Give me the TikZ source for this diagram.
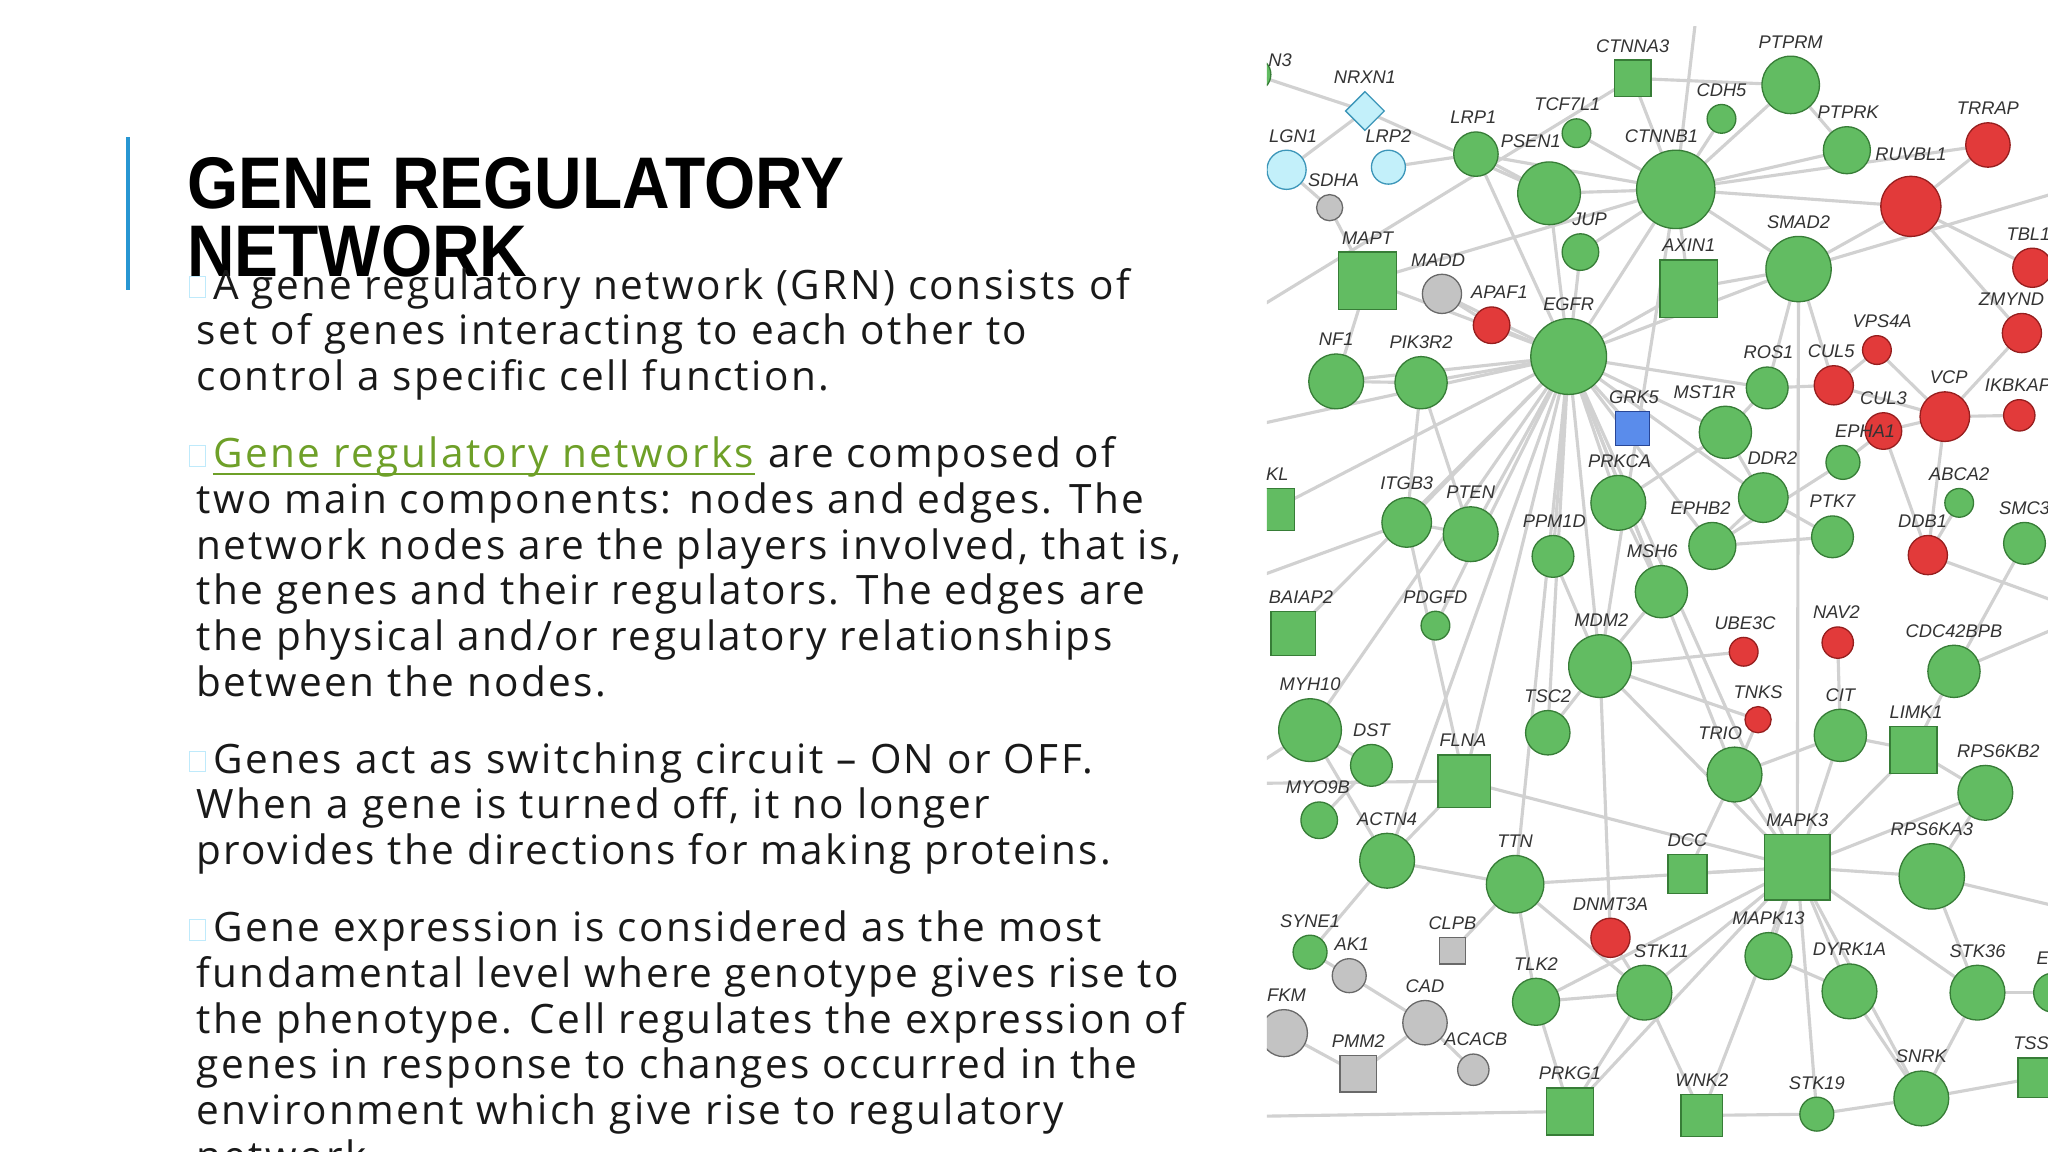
\documentclass[tikz,border=0pt]{standalone}
\usepackage{fontspec}
\setmainfont{Open Sans}[LetterSpace=6]
\newfontfamily\titlefont[FakeStretch=0.9]{Liberation Sans}
\newfontfamily\labfont{Liberation Sans}
\usetikzlibrary{shapes.geometric}
\definecolor{gfill}{RGB}{98,188,98}\definecolor{gdraw}{RGB}{55,125,55}
\definecolor{rfill}{RGB}{226,58,58}\definecolor{rdraw}{RGB}{150,30,30}
\definecolor{yfill}{RGB}{195,195,195}\definecolor{ydraw}{RGB}{105,105,105}
\definecolor{cfill}{RGB}{195,240,250}\definecolor{cdraw}{RGB}{60,150,185}
\definecolor{bfill}{RGB}{90,140,235}\definecolor{bdraw}{RGB}{40,70,150}
\definecolor{linkgreen}{RGB}{110,160,40}
\definecolor{accent}{RGB}{40,150,210}
\tikzset{
 gc/.style={circle,inner sep=0pt,line width=0.5pt},
 gs/.style={rectangle,inner sep=0pt,line width=0.5pt},
 gd/.style={diamond,inner sep=0pt,line width=0.5pt},
 G/.style={fill=gfill,draw=gdraw}, R/.style={fill=rfill,draw=rdraw},
 Y/.style={fill=yfill,draw=ydraw}, C/.style={fill=cfill,draw=cdraw},
 B/.style={fill=bfill,draw=bdraw},
 lab/.style={font=\labfont\itshape\fontsize{7}{8}\selectfont,text=black!80,inner sep=0pt},
 edge/.style={draw=black!18,line width=1.2pt},
 body/.style={anchor=base west,inner sep=0pt,font=\fontsize{15.5}{17}\selectfont,text=black!90},
 bul/.style={draw=cyan!25,line width=0.4pt,minimum width=6pt,minimum height=8pt,inner sep=0pt}
}
\def\nodelist{CTNNA3/1250/60/28/G/gs, PTPRM/1371/65/44/G/gc, CDH5/1318/91/22/G/gc, NRXN1/1045/85/30/C/gd,
TCF7L1/1207/102/22/G/gc, LRP1/1130/118/34/G/gc, LRP2/1063/128/26/C/gc, LGN1/985/130/30/C/gc,
PSEN1/1186/148/48/G/gc, CTNNB1/1283/145/60/G/gc, PTPRK/1414/115/36/G/gc, TRRAP/1522/111/34/R/gc,
RUVBL1/1463/158/46/R/gc, SDHA/1018/159/20/Y/gc, JUP/1210/193/28/G/gc, AXIN1/1293/221/44/G/gs,
SMAD2/1377/206/50/G/gc, TBL1/1556/205/30/R/gc, MAPT/1047/215/44/G/gs, MADD/1104/225/30/Y/gc,
APAF1/1142/249/28/R/gc, EGFR/1201/273/58/G/gc, ZMYND/1548/255/30/R/gc, VPS4A/1437/268/22/R/gc,
NF1/1023/292/42/G/gc, PIK3R2/1088/293/40/G/gc, ROS1/1353/297/32/G/gc, CUL5/1404/295/30/R/gc,
CUL3/1442/330/28/R/gc, VCP/1489/319/38/R/gc, IKBKAP/1546/318/24/R/gc, GRK5/1250/328/26/B/gs,
MST1R/1321/331/40/G/gc, EPHA1/1411/354/26/G/gc, KL/975/390/32/G/gs, PRKCA/1239/385/42/G/gc,
DDR2/1350/381/38/G/gc, ABCA2/1500/385/22/G/gc, ITGB3/1077/400/38/G/gc, PTEN/1126/409/42/G/gc,
PPM1D/1189/426/32/G/gc, EPHB2/1311/418/36/G/gc, PTK7/1403/411/32/G/gc, DDB1/1476/425/30/R/gc,
SMC3/1550/416/32/G/gc, MSH6/1272/453/40/G/gc, BAIAP2/990/485/34/G/gs, PDGFD/1099/479/22/G/gc,
MDM2/1225/510/48/G/gc, UBE3C/1335/499/22/R/gc, NAV2/1407/492/24/R/gc, CDC42BPB/1496/514/40/G/gc,
MYH10/1003/559/48/G/gc, TSC2/1185/561/34/G/gc, TNKS/1346/551/20/R/gc, CIT/1409/563/40/G/gc,
LIMK1/1465/574/36/G/gs, DST/1050/586/32/G/gc, FLNA/1121/598/40/G/gs, TRIO/1328/593/42/G/gc,
RPS6KB2/1520/607/42/G/gc, MYO9B/1010/628/28/G/gc, ACTN4/1062/659/42/G/gc, TTN/1160/677/44/G/gc,
DCC/1292/669/30/G/gs, MAPK3/1376/664/50/G/gs, RPS6KA3/1479/671/50/G/gc, SYNE1/1003/729/26/G/gc,
AK1/1033/747/26/Y/gc, CLPB/1112/728/20/Y/gs, DNMT3A/1233/718/30/R/gc, MAPK13/1354/732/36/G/gc,
DYRK1A/1416/759/42/G/gc, STK36/1514/760/42/G/gc, TLK2/1176/767/36/G/gc, STK11/1259/760/42/G/gc,
FKM/983/791/36/Y/gc, CAD/1091/783/34/Y/gc, PMM2/1040/822/28/Y/gs, ACACB/1128/819/24/Y/gc,
PRKG1/1202/851/36/G/gs, WNK2/1303/854/32/G/gs, STK19/1391/853/26/G/gc, SNRK/1471/841/42/G/gc,
TSS/1560/825/30/G/gs, NZ/960/57/26/G/gc, EZ/1572/760/30/G/gc}
\begin{document}
\begin{tikzpicture}[x=0.5pt,y=-0.5pt]
\useasboundingbox (0,0) rectangle (1568,882);
\fill[white] (0,0) rectangle (1568,882);
% title
\draw[accent,line width=1.2pt] (98,105) -- (98,222);
\node[anchor=base west,inner sep=0pt,font=\titlefont\bfseries\fontsize{28}{26}\selectfont] (t1) at (143,160) {GENE REGULATORY};
\node[anchor=base west,inner sep=0pt,font=\titlefont\bfseries\fontsize{28}{26}\selectfont] (t2) at (143,212) {NETWORK};
% body
\foreach \yy in {220,349,583,712}{\node[bul] at (151,\yy) {};}
\node[body] (b1) at (163,229) {A gene regulatory network (GRN) consists of};
\node[body] (b2) at (150,264) {set of genes interacting to each other to};
\node[body] (b3) at (150,299) {control a specific cell function.};
\node[body,text=linkgreen] (lk) at (163,358) {Gene regulatory networks};
\node[body] (lk2) at (lk.base east) {\ are composed of};
\draw[linkgreen,line width=0.6pt] ([yshift=-2.5pt]lk.base west) -- ([yshift=-2.5pt]lk.base east);
\node[body] (b5) at (150,393) {two main components: nodes and edges. The};
\node[body] (b6) at (150,428) {network nodes are the players involved, that is,};
\node[body] (b7) at (150,463) {the genes and their regulators. The edges are};
\node[body] (b8) at (150,498) {the physical and/or regulatory relationships};
\node[body] (b9) at (150,533) {between the nodes.};
\node[body] (c1) at (163,592) {Genes act as switching circuit – ON or OFF.};
\node[body] (c2) at (150,627) {When a gene is turned off, it no longer};
\node[body] (c3) at (150,662) {provides the directions for making proteins.};
\node[body] (d1) at (163,721) {Gene expression is considered as the most};
\node[body] (d2) at (150,756) {fundamental level where genotype gives rise to};
\node[body] (d3) at (150,791) {the phenotype. Cell regulates the expression of};
\node[body] (d4) at (150,826) {genes in response to changes occurred in the};
\node[body] (d5) at (150,861) {environment which give rise to regulatory};
\node[body] (d6) at (150,896) {network};
% network
\begin{scope}
\clip (970,20) rectangle (1568,882);
\foreach \n/\x/\y/\d/\c/\s in \nodelist {\coordinate (\n) at (\x,\y);}
\coordinate (L1) at (940,330); \coordinate (L2) at (940,600); \coordinate (L3) at (940,855);
\coordinate (L4) at (940,250); \coordinate (R1) at (1600,140); \coordinate (R2) at (1600,470);
\coordinate (R3) at (1600,700); \coordinate (T1) at (1300,0); \coordinate (L5) at (940,450);
\foreach \a/\b in {EGFR/PSEN1,EGFR/CTNNB1,EGFR/JUP,EGFR/APAF1,EGFR/MADD,EGFR/NF1,EGFR/PIK3R2,EGFR/ITGB3,
EGFR/PTEN,EGFR/PPM1D,EGFR/PRKCA,EGFR/GRK5,EGFR/MST1R,EGFR/MSH6,EGFR/MDM2,EGFR/TSC2,EGFR/FLNA,EGFR/MAPT,
EGFR/LRP1,EGFR/AXIN1,EGFR/SMAD2,EGFR/DDR2,EGFR/EPHB2,EGFR/ACTN4,EGFR/TTN,EGFR/BAIAP2,EGFR/MYH10,EGFR/ROS1,
EGFR/L1,EGFR/KL,EGFR/PDGFD,EGFR/TRIO,EGFR/MAPK3,
CTNNB1/CTNNA3,CTNNB1/CDH5,CTNNB1/PTPRM,CTNNB1/PSEN1,CTNNB1/TCF7L1,CTNNB1/AXIN1,CTNNB1/JUP,CTNNB1/SMAD2,
CTNNB1/PTPRK,CTNNB1/LRP1,CTNNB1/RUVBL1,CTNNB1/TRRAP,CTNNB1/MAPT,CTNNB1/MDM2,CTNNB1/T1,CTNNA3/PTPRM,CTNNA3/L4,
SMAD2/RUVBL1,SMAD2/ROS1,SMAD2/CUL5,SMAD2/MAPK3,SMAD2/AXIN1,SMAD2/R1,PTPRM/PTPRK,PSEN1/LRP1,PSEN1/NRXN1,
VCP/CUL3,VCP/CUL5,VCP/VPS4A,VCP/DDB1,VCP/IKBKAP,VCP/ZMYND,RUVBL1/TRRAP,RUVBL1/TBL1,RUVBL1/ZMYND,CUL5/VPS4A,
CUL3/DDB1,CUL3/EPHA1,CUL5/ROS1,DDB1/ABCA2,DDB1/R2,
MAPK3/TRIO,MAPK3/DCC,MAPK3/RPS6KA3,MAPK3/MAPK13,MAPK3/DYRK1A,MAPK3/STK11,MAPK3/CIT,MAPK3/LIMK1,MAPK3/RPS6KB2,
MAPK3/STK36,MAPK3/SNRK,MAPK3/WNK2,MAPK3/MDM2,MAPK3/TTN,MAPK3/FLNA,MAPK3/PRKG1,MAPK3/TLK2,MAPK3/STK19,
MDM2/TSC2,MDM2/MSH6,MDM2/UBE3C,MDM2/DNMT3A,MDM2/PPM1D,MDM2/TNKS,TRIO/TNKS,TRIO/CIT,CIT/LIMK1,CIT/NAV2,
LIMK1/CDC42BPB,LIMK1/RPS6KB2,CDC42BPB/SMC3,CDC42BPB/R2,RPS6KA3/RPS6KB2,RPS6KA3/R3,RPS6KA3/STK36,
EPHA1/EPHB2,DDR2/EPHB2,DDR2/MST1R,ROS1/MST1R,PTK7/EPHB2,PTK7/DDR2,PRKCA/MST1R,PRKCA/MSH6,
ITGB3/PTEN,PTEN/PIK3R2,ITGB3/FLNA,FLNA/ACTN4,ACTN4/MYH10,MYH10/DST,DST/MYO9B,ACTN4/TTN,ACTN4/SYNE1,
SYNE1/AK1,TTN/TLK2,CAD/ACACB,PMM2/CAD,AK1/CAD,STK11/TLK2,STK11/DNMT3A,STK11/WNK2,STK11/PRKG1,STK19/WNK2,
SNRK/STK19,DYRK1A/SNRK,STK36/SNRK,LRP2/LRP1,NRXN1/LGN1,LGN1/SDHA,SDHA/MAPT,MAPT/NF1,NF1/PIK3R2,
MYH10/L2,PRKG1/L3,FKM/PMM2,FLNA/L2,TTN/STK11,DCC/TRIO,MAPK13/DYRK1A,SNRK/TSS,STK36/EZ,ITGB3/L5,
PIK3R2/ITGB3,NZ/NRXN1,MADD/APAF1,TLK2/PRKG1,CLPB/TTN}
 {\draw[edge] (\a) -- (\b);}
\foreach \n/\x/\y/\d/\c/\s in \nodelist {
 \node[\s,\c,minimum size={\d*0.5pt}] at (\x,\y) {};
}
\foreach \n/\x/\y/\d in {CTNNA3/1250/60/28, PTPRM/1371/65/44, CDH5/1318/91/22, NRXN1/1045/85/30,
TCF7L1/1200/102/22, LRP1/1128/118/34, LRP2/1063/128/26, LGN1/990/130/30,
PSEN1/1172/143/48, CTNNB1/1272/145/60, PTPRK/1415/115/36, TRRAP/1522/111/34,
RUVBL1/1463/152/46, SDHA/1021/159/20, JUP/1217/193/28, AXIN1/1293/221/44,
SMAD2/1377/206/50, TBL1/1553/205/30, MAPT/1047/215/44, MADD/1101/225/30,
APAF1/1148/249/28, EGFR/1201/273/58, ZMYND/1540/255/30, VPS4A/1441/268/22,
NF1/1023/292/42, PIK3R2/1088/293/40, ROS1/1354/297/32, CUL5/1402/295/30,
CUL3/1442/330/28, VCP/1492/319/38, IKBKAP/1545/318/24, GRK5/1251/328/26,
MST1R/1305/331/40, EPHA1/1428/354/26, KL/978/390/32, PRKCA/1240/385/42,
DDR2/1357/381/38, ABCA2/1500/385/22, ITGB3/1077/400/38, PTEN/1126/409/42,
PPM1D/1190/426/32, EPHB2/1302/418/36, PTK7/1403/411/32, DDB1/1472/425/30,
SMC3/1550/416/32, MSH6/1265/453/40, BAIAP2/996/485/34, PDGFD/1099/479/22,
MDM2/1226/510/48, UBE3C/1336/499/22, NAV2/1406/492/24, CDC42BPB/1496/514/40,
MYH10/1003/559/48, TSC2/1185/561/34, TNKS/1346/551/20, CIT/1409/563/40,
LIMK1/1467/574/36, DST/1050/586/32, FLNA/1120/598/40, TRIO/1317/593/42,
RPS6KB2/1530/607/42, MYO9B/1009/628/28, ACTN4/1062/659/42, TTN/1160/677/44,
DCC/1292/669/30, MAPK3/1376/664/50, RPS6KA3/1479/671/50, SYNE1/1003/729/26,
AK1/1035/747/26, CLPB/1112/728/20, DNMT3A/1233/718/30, MAPK13/1354/732/36,
DYRK1A/1416/759/42, STK36/1514/760/42, TLK2/1176/767/36, STK11/1272/760/42,
FKM/985/791/36, CAD/1091/783/34, PMM2/1040/822/28, ACACB/1130/819/24,
PRKG1/1202/851/36, WNK2/1303/854/32, STK19/1391/853/26, SNRK/1471/841/42,
TSS/1555/825/30, N3/980/57/0, E/1564/760/30}
 {\node[lab] (lab\n) at (\x,{\y-\d/2-11}) {\n};}
\end{scope}
\end{tikzpicture}
\end{document}
